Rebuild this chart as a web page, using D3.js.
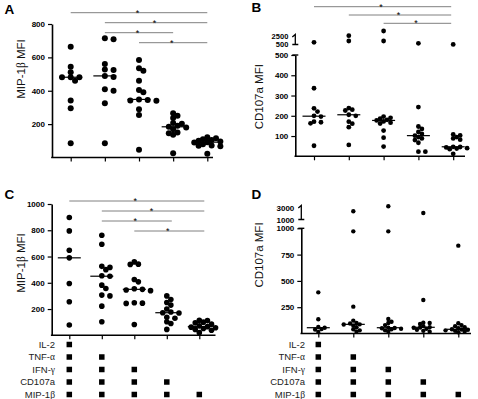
<!DOCTYPE html>
<html>
<head>
<meta charset="utf-8">
<script src="https://cdn.jsdelivr.net/npm/d3@7"></script>
<style>
  body { margin: 0; background: #fff; }
  svg text { font-family: Arial, 'Liberation Sans', sans-serif; }
</style>
</head>
<body>
<script>
  // cytokine combinations, one per column (5, 4, 3, 2, 1 functions)
  var categories = [
    'IL-2+TNF-α+IFN-γ+CD107a+MIP-1β',
    'TNF-α+IFN-γ+CD107a+MIP-1β',
    'IFN-γ+CD107a+MIP-1β',
    'CD107a+MIP-1β',
    'MIP-1β'
  ];
  var cytokines = ['IL-2', 'TNF-α', 'IFN-γ', 'CD107a', 'MIP-1β'];

  // panel A: MIP-1β MFI
  var mipA = [
    [664, 544, 511, 481, 481, 481, 460, 341, 295, 86],
    [714, 708, 560, 528, 525, 489, 482, 409, 400, 325, 86],
    [584, 535, 520, 460, 405, 391, 348, 345, 342, 340, 289, 255, 46],
    [265, 250, 236, 206, 202, 190, 184, 180, 170, 150, 146, 136, 26],
    [122, 115, 110, 105, 100, 96, 92, 90, 80, 72, 70, 68, 22]
  ];
  // panel B: CD107a MFI
  var cd107aB = [
    [1050, 336, 237, 221, 200, 196, 171, 168, 163, 52],
    [2700, 1375, 238, 230, 226, 205, 200, 171, 161, 144, 56],
    [3875, 1375, 196, 190, 186, 180, 177, 172, 166, 162, 127, 92, 48],
    [800, 243, 147, 135, 120, 110, 102, 95, 88, 80, 67, 23, 23],
    [520, 108, 103, 95, 88, 82, 47, 46, 44, 40, 38, 35, 12]
  ];
  // panel C: MIP-1β MFI
  var mipC = [
    [897, 795, 648, 590, 395, 255, 78],
    [762, 694, 525, 517, 500, 453, 450, 382, 357, 306, 300, 222, 103],
    [559, 542, 540, 425, 407, 355, 350, 345, 340, 248, 245, 243, 82],
    [300, 272, 250, 230, 200, 178, 172, 170, 137, 130, 103, 90, 45],
    [115, 112, 100, 95, 85, 72, 66, 62, 58, 52, 45, 38, 20]
  ];
  // panel D: CD107a MFI
  var cd107aD = [
    [391, 135, 62, 55, 42, 38, 15],
    [2367, 971, 255, 122, 100, 95, 87, 85, 75, 60, 40, 30, 17],
    [3200, 971, 138, 112, 100, 80, 55, 52, 50, 45, 40, 30, 17],
    [2083, 318, 103, 100, 90, 70, 59, 57, 55, 45, 35, 25, 17],
    [835, 97, 80, 70, 60, 50, 40, 38, 35, 30, 25, 20, 12]
  ];

  // significant comparisons (column index pairs)
  var sigA = [[0, 4], [1, 4], [1, 3], [2, 4]];
  var sigB = [[0, 4], [1, 4], [2, 4]];
  var sigC = [[0, 4], [1, 4], [1, 3], [2, 4]];

  var ticksA = [200, 400, 600, 800];
  var ticksB = [100, 200, 300, 400, 500], ticksBHigh = [500, 2500];
  var ticksC = [200, 400, 600, 800, 1000];
  var ticksD = [250, 500, 750, 1000], ticksDHigh = [1000, 3000];

  var width = 478, height = 399;

  var svg = d3.select('body').append('svg')
    .attr('width', width)
    .attr('height', height);

  // simple beeswarm: spread points sideways when they collide
  function swarm(ys, r) {
    var order = d3.range(ys.length).sort(function (a, b) { return ys[a] - ys[b]; });
    var placed = [], off = [];
    var step = r * 1.45, minD = r * 1.55;
    order.forEach(function (i) {
      for (var k = 0; ; k++) {
        var dx = k === 0 ? 0 : (k % 2 ? 1 : -1) * Math.ceil(k / 2) * step;
        var ok = placed.every(function (p) { return Math.hypot(p.dx - dx, p.y - ys[i]) >= minD; });
        if (ok) { off[i] = dx; placed.push({dx: dx, y: ys[i]}); break; }
      }
    });
    return off;
  }

  function styleAxis(g, size) {
    g.selectAll('path, line').attr('stroke', '#000');
    g.select('.domain').attr('stroke-width', 1.6);
    g.selectAll('.tick line').attr('stroke-width', 1.2);
    g.selectAll('text')
      .attr('font-family', 'Arial, "Liberation Sans", sans-serif')
      .attr('font-size', size || 8)
      .attr('font-weight', 'bold')
      .attr('fill', '#000');
  }

  function yLabel(g, cx, cy, parts) {
    var t = g.append('text')
      .attr('transform', 'translate(' + cx + ',' + cy + ') rotate(-90)')
      .attr('text-anchor', 'middle')
      .attr('dy', '0.35em')
      .attr('font-size', 11.5)
      .attr('fill', '#111');
    parts.forEach(function (p) {
      var s = t.append('tspan').text(p[0]);
      if (p[1]) s.attr('font-family', '"Liberation Serif", "DejaVu Serif", serif');
    });
  }

  var fmt = d3.format('d');

  function drawPanel(cfg, data, sig) {
    var g = svg.append('g');
    var x = d3.scalePoint().domain(d3.range(data.length)).range(cfg.catRange);
    var yLo = d3.scaleLinear().domain(cfg.loDomain).range(cfg.loRange);
    var yHi = cfg.hiDomain ? d3.scaleLinear().domain(cfg.hiDomain).range(cfg.hiRange) : null;
    var yPos = function (v) { return (yHi && v > cfg.loDomain[1]) ? yHi(v) : yLo(v); };

    // y axis (lower part)
    g.append('g')
      .attr('transform', 'translate(' + cfg.axisX + ',0)')
      .call(d3.axisLeft(yLo).tickValues(cfg.loTicks).tickFormat(fmt)
        .tickSize(4).tickSizeOuter(0).tickPadding(3))
      .call(styleAxis);

    // broken axis: upper segment
    if (yHi) {
      var top = yLo(cfg.loDomain[1]);
      g.append('line')
        .attr('x1', cfg.axisX - 3).attr('x2', cfg.axisX + 3)
        .attr('y1', top).attr('y2', top)
        .attr('stroke', '#000').attr('stroke-width', 1.4);
      var ug = g.append('g')
        .attr('transform', 'translate(' + cfg.axisX + ',0)')
        .call(d3.axisLeft(yHi).tickValues(cfg.hiTicks).tickFormat(fmt)
          .tickSize(0).tickPadding(7))
        .call(styleAxis, cfg.hiFont);
      ug.select('.domain').remove();
      var b = yHi(cfg.hiDomain[0]), t = yHi(cfg.hiDomain[1]) - 2;
      g.append('path')
        .attr('d', 'M' + (cfg.axisX - 3) + ',' + (t + 2.5) + 'L' + cfg.axisX + ',' + t +
          'V' + b + 'M' + (cfg.axisX - 3) + ',' + b + 'H' + (cfg.axisX + 3))
        .attr('fill', 'none').attr('stroke', '#000').attr('stroke-width', 1.3);
    }

    // x axis
    var xg = g.append('g')
      .attr('transform', 'translate(0,' + yLo(0) + ')')
      .call(d3.axisBottom(x).tickSize(4).tickSizeOuter(0).tickFormat(''))
      .call(styleAxis);
    xg.select('.domain').remove();
    g.append('line')
      .attr('x1', cfg.axisX - 0.8).attr('x2', cfg.xEnd)
      .attr('y1', yLo(0)).attr('y2', yLo(0))
      .attr('stroke', '#000').attr('stroke-width', 1.6);

    // dots and medians
    data.forEach(function (vals, c) {
      var ys = vals.map(yPos);
      var off = swarm(ys, cfg.r);
      g.append('g').selectAll('circle')
        .data(vals)
        .join('circle')
        .attr('cx', function (d, i) { return x(c) + off[i]; })
        .attr('cy', function (d, i) { return ys[i]; })
        .attr('r', cfg.r)
        .attr('fill', '#000');
      var m = yPos(d3.median(vals));
      g.append('line')
        .attr('x1', x(c) - 11.5).attr('x2', x(c) + 11.5)
        .attr('y1', m).attr('y2', m)
        .attr('stroke', '#000').attr('stroke-width', 1.2);
    });

    // significance bars
    (sig || []).forEach(function (p, k) {
      var yy = cfg.sigTop + k * cfg.sigStep;
      var x1 = x(p[0]) + cfg.sigPad[0], x2 = x(p[1]) + cfg.sigPad[1];
      g.append('line')
        .attr('x1', x1).attr('x2', x2)
        .attr('y1', yy).attr('y2', yy)
        .attr('stroke', '#808080').attr('stroke-width', 1);
      g.append('text')
        .attr('x', (x1 + x2) / 2 - 1.5).attr('y', yy + 3)
        .attr('text-anchor', 'middle')
        .attr('font-size', 9)
        .attr('fill', '#000')
        .text('*');
    });

    yLabel(g, cfg.label[0], cfg.label[1], cfg.labelParts);

    g.append('text')
      .attr('x', cfg.letter[0]).attr('y', cfg.letter[1])
      .attr('font-size', 13.5)
      .attr('font-weight', 'bold')
      .text(cfg.name);

    return x;
  }

  var mipParts = [['MIP-1'], ['β', true], [' MFI']];
  var cdParts = [['CD107a MFI']];

  drawPanel({
    name: 'A', letter: [4.5, 13.5], label: [20.5, 69], labelParts: mipParts,
    axisX: 52, xEnd: 213, catRange: [70.7, 207.3],
    loDomain: [0, 800], loRange: [157.5, 24], loTicks: ticksA,
    r: 3, sigTop: 12.7, sigStep: 10, sigPad: [0, 0]
  }, mipA, sigA);

  drawPanel({
    name: 'B', letter: [251.5, 12], label: [258.5, 96.7], labelParts: cdParts,
    axisX: 295.3, xEnd: 465, catRange: [314, 453.2],
    loDomain: [0, 500], loRange: [156.3, 55], loTicks: ticksB,
    hiDomain: [500, 2500], hiRange: [44.5, 36.5], hiTicks: ticksBHigh, hiFont: 7.5,
    r: 2.4, sigTop: 6.7, sigStep: 8.3, sigPad: [0, -2]
  }, cd107aB, sigB);

  var xC = drawPanel({
    name: 'C', letter: [4.5, 198.5], label: [21, 263], labelParts: mipParts,
    axisX: 51.7, xEnd: 215.5, catRange: [69.3, 199.3],
    loDomain: [0, 1000], loRange: [335.3, 204], loTicks: ticksC,
    r: 2.8, sigTop: 201, sigStep: 10, sigPad: [0, 5]
  }, mipC, sigC);

  var xD = drawPanel({
    name: 'D', letter: [251.5, 198.5], label: [258.5, 255], labelParts: cdParts,
    axisX: 301.3, xEnd: 471, catRange: [318.3, 458.3],
    loDomain: [0, 1000], loRange: [333.5, 228.3], loTicks: ticksD,
    hiDomain: [1000, 3000], hiRange: [219.5, 207.5], hiTicks: ticksDHigh,
    r: 2.2
  }, cd107aD, null);

  // cytokine combination tables under C and D
  function drawTable(x, labelRight) {
    var g = svg.append('g');
    var rowY = d3.scalePoint().domain(cytokines).range([344.5, 394.5]);
    cytokines.forEach(function (cy) {
      var t = g.append('text')
        .attr('x', labelRight).attr('y', rowY(cy))
        .attr('dy', '0.35em')
        .attr('text-anchor', 'end')
        .attr('font-size', 9.5)
        .attr('fill', '#222');
      if (/[αβγ]$/.test(cy)) {
        t.append('tspan').text(cy.slice(0, -1));
        t.append('tspan').attr('font-family', '"Liberation Serif", "DejaVu Serif", serif').text(cy.slice(-1));
      } else {
        t.text(cy);
      }
      categories.forEach(function (cat, c) {
        if (cat.split('+').indexOf(cy) >= 0) {
          g.append('rect')
            .attr('x', x(c) - 2.75).attr('y', rowY(cy) - 2.75)
            .attr('width', 5.5).attr('height', 5.5)
            .attr('fill', '#000');
        }
      });
    });
  }

  drawTable(xC, 55);
  drawTable(xD, 305);
</script>
</body>
</html>
